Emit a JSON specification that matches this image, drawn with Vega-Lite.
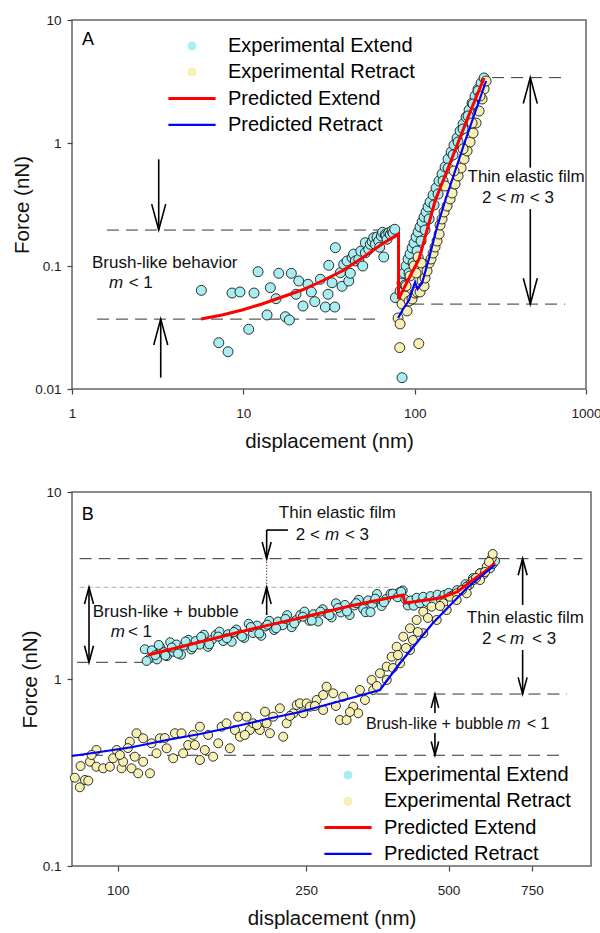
{
"$schema":"https://vega.github.io/schema/vega-lite/v6.json",
"background":"white",
"padding":{"left":11,"top":12,"right":5,"bottom":5},
"spacing":31,
"config":{
 "font":"Liberation Sans",
 "view":{"stroke":"#666666","strokeWidth":1.5},
 "axis":{"grid":false,"domain":false,"tickColor":"#444444","tickSize":5,"tickWidth":1.2,"labelFont":"Liberation Sans","labelFontSize":13.5,"labelColor":"#222222","titleFont":"Liberation Sans","titleFontSize":20.5,"titleFontWeight":"normal","titleColor":"#111111","labelFlush":false,"labelOverlap":false},
 "legend":{"labelFont":"Liberation Sans","labelFontSize":20,"labelColor":"#000000","labelLimit":400,"padding":0,"rowPadding":6.3,"symbolSize":64,"labelOffset":26,"symbolOffset":0,"symbolStrokeWidth":1}
},
"resolve":{"scale":{"color":"independent"},"legend":{"color":"independent"}},
"datasets":{
"extA":[{"x":5.69,"y":0.0634},{"x":7.19,"y":0.0238},{"x":8.14,"y":0.0201},{"x":8.59,"y":0.0603},{"x":9.56,"y":0.0615},{"x":10.75,"y":0.0306},{"x":11.55,"y":0.0603},{"x":12.19,"y":0.0899},{"x":13.75,"y":0.04},{"x":14.38,"y":0.0666},{"x":15.52,"y":0.0542},{"x":16.1,"y":0.0872},{"x":17.59,"y":0.0387},{"x":18.56,"y":0.0364},{"x":19.06,"y":0.0872},{"x":20.3,"y":0.0589},{"x":21.06,"y":0.0755},{"x":22.31,"y":0.0473},{"x":23.86,"y":0.071},{"x":24.94,"y":0.0615},{"x":26.12,"y":0.0513},{"x":28.15,"y":0.078},{"x":30.11,"y":0.0464},{"x":31.22,"y":0.0589},{"x":31.51,"y":0.1013},{"x":34.17,"y":0.0464},{"x":34.44,"y":0.1409},{"x":32.95,"y":0.0731},{"x":36.84,"y":0.0882},{"x":37.69,"y":0.0684},{"x":38.56,"y":0.1032},{"x":40.31,"y":0.1098},{"x":41.24,"y":0.0755},{"x":42.13,"y":0.0872},{"x":43.11,"y":0.1168},{"x":44.0,"y":0.125},{"x":45.06,"y":0.1098},{"x":47.18,"y":0.1134},{"x":48.5,"y":0.132},{"x":49.77,"y":0.1},{"x":51.54,"y":0.1282},{"x":51.54,"y":0.1547},{"x":53.95,"y":0.1367},{"x":55.13,"y":0.1501},{"x":56.5,"y":0.158},{"x":57.7,"y":0.1699},{"x":58.96,"y":0.1501},{"x":60.3,"y":0.172},{"x":61.71,"y":0.1597},{"x":62.5,"y":0.142},{"x":63.91,"y":0.1753},{"x":65.0,"y":0.188},{"x":66.01,"y":0.1183},{"x":67.45,"y":0.181},{"x":68.0,"y":0.176},{"x":69.01,"y":0.1649},{"x":70.6,"y":0.1865},{"x":72.13,"y":0.181},{"x":73.81,"y":0.1926},{"x":74.8,"y":0.185},{"x":76.53,"y":0.1988},{"x":77.15,"y":0.0553},{"x":84.41,"y":0.01236},
{"x":82.2,"y":0.0626},{"x":84.4,"y":0.0727},{"x":86.7,"y":0.0877},{"x":89.1,"y":0.1},{"x":91.5,"y":0.114},{"x":94.0,"y":0.1252},{"x":96.6,"y":0.14},{"x":99.2,"y":0.1538},{"x":101.9,"y":0.1721},{"x":104.7,"y":0.189},{"x":107.5,"y":0.2075},{"x":110.5,"y":0.2279},{"x":113.5,"y":0.2503},{"x":116.6,"y":0.2748},{"x":119.7,"y":0.3018},{"x":123.0,"y":0.3314},{"x":128.1,"y":0.3777},{"x":133.3,"y":0.4306},{"x":138.8,"y":0.491},{"x":144.5,"y":0.5598},{"x":150.5,"y":0.6381},{"x":156.7,"y":0.741},{"x":163.2,"y":0.8449},{"x":169.8,"y":0.9632},{"x":176.8,"y":1.098},{"x":184.1,"y":1.252},{"x":191.7,"y":1.427},{"x":199.6,"y":1.627},{"x":207.8,"y":1.855},{"x":216.3,"y":2.114},{"x":225.2,"y":2.41},{"x":234.5,"y":2.748},{"x":244.2,"y":3.075},{"x":254.2,"y":3.378},{"x":87.9,"y":0.0701},{"x":92.8,"y":0.0877},{"x":97.9,"y":0.1058},{"x":103.3,"y":0.1324},{"x":109.0,"y":0.1597},{"x":115.0,"y":0.1962},{"x":121.4,"y":0.2411},{"x":129.8,"y":0.3133},{"x":137.0,"y":0.3848},{"x":146.5,"y":0.491},{"x":156.7,"y":0.6261},{"x":167.6,"y":0.7991},{"x":179.2,"y":1.019},{"x":191.7,"y":1.3},{"x":205.0,"y":1.658},{"x":219.2,"y":2.075},{"x":234.5,"y":2.648}],
"retA":[{"x":80.0,"y":0.0378},{"x":82.2,"y":0.0338},{"x":81.8,"y":0.0217},{"x":105.7,"y":0.0234},{"x":84.4,"y":0.0491},{"x":87.9,"y":0.0571},{"x":90.3,"y":0.0431},{"x":92.8,"y":0.0519},{"x":96.6,"y":0.0539},{"x":100.5,"y":0.0603},{"x":103.3,"y":0.0615},{"x":107.5,"y":0.0615},{"x":110.5,"y":0.0755},{"x":113.5,"y":0.0688},{"x":115.0,"y":0.0799},{"x":118.1,"y":0.0911},{"x":121.4,"y":0.1058},{"x":124.6,"y":0.114},{"x":128.1,"y":0.1275},{"x":131.5,"y":0.1427},{"x":135.1,"y":0.1597},{"x":138.8,"y":0.182},{"x":140.7,"y":0.2154},{"x":144.5,"y":0.2411},{"x":148.5,"y":0.2748},{"x":154.6,"y":0.3075},{"x":161.0,"y":0.3505},{"x":165.3,"y":0.3923},{"x":172.1,"y":0.4642},{"x":179.2,"y":0.5391},{"x":186.6,"y":0.6261},{"x":194.3,"y":0.741},{"x":202.3,"y":0.8609},{"x":210.6,"y":1.019},{"x":219.2,"y":1.206},{"x":228.3,"y":1.454},{"x":237.7,"y":1.82},{"x":247.5,"y":2.279},{"x":254.2,"y":2.748},{"x":261.1,"y":3.192},{"x":89.1,"y":0.0688},{"x":94.0,"y":0.0829},{"x":99.2,"y":0.1},{"x":104.7,"y":0.1183},{"x":109.0,"y":0.1058},{"x":101.9,"y":0.0877},{"x":150.5,"y":0.447},{"x":169.8,"y":0.592},{"x":191.7,"y":0.894},{"x":216.3,"y":1.454},{"x":240.9,"y":2.41}],
"redA":[{"i":1,"x":5.66,"y":0.0371},{"i":2,"x":7.51,"y":0.04},{"i":3,"x":9.83,"y":0.0439},{"i":4,"x":12.86,"y":0.0491},{"i":5,"x":16.83,"y":0.056},{"i":6,"x":22.01,"y":0.0638},{"i":7,"x":28.81,"y":0.0755},{"i":8,"x":37.69,"y":0.0911},{"i":9,"x":49.31,"y":0.1161},{"i":10,"x":64.52,"y":0.151},{"i":11,"x":80.5,"y":0.182},{"i":12,"x":80.5,"y":0.0539},{"i":13,"x":90.3,"y":0.0741},{"i":14,"x":106.1,"y":0.114},{"i":15,"x":131.5,"y":0.3377},{"i":16,"x":165.3,"y":0.7551},{"i":17,"x":205.0,"y":1.627},{"i":18,"x":254.2,"y":3.378}],
"blueA":[{"x":80.0,"y":0.0378},{"x":85.6,"y":0.0447},{"x":92.8,"y":0.0529},{"x":100.5,"y":0.0741},{"x":104.0,"y":0.065},{"x":110.5,"y":0.0727},{"x":121.4,"y":0.1161},{"x":135.1,"y":0.2075},{"x":150.5,"y":0.3377},{"x":197.0,"y":1.038},{"x":261.1,"y":3.192}],
"extB":[{"x":114,"y":1.443},{"x":117,"y":1.292},{"x":119,"y":1.398},{"x":121,"y":1.273},{"x":123,"y":1.476},{"x":125,"y":1.391},{"x":127,"y":1.325},{"x":129,"y":1.572},{"x":131,"y":1.398},{"x":133,"y":1.529},{"x":136,"y":1.349},{"x":138,"y":1.509},{"x":141,"y":1.62},{"x":143,"y":1.439},{"x":146,"y":1.597},{"x":149,"y":1.526},{"x":152,"y":1.725},{"x":155,"y":1.485},{"x":158,"y":1.618},{"x":161,"y":1.72},{"x":164,"y":1.792},{"x":167,"y":1.596},{"x":171,"y":1.735},{"x":174,"y":1.58},{"x":178,"y":1.839},{"x":181,"y":1.733},{"x":185,"y":1.658},{"x":189,"y":1.973},{"x":193,"y":1.76},{"x":197,"y":1.931},{"x":201,"y":1.702},{"x":205,"y":1.91},{"x":209,"y":2.046},{"x":214,"y":1.829},{"x":218,"y":2.028},{"x":223,"y":1.94},{"x":228,"y":2.195},{"x":233,"y":1.893},{"x":238,"y":2.064},{"x":243,"y":2.198},{"x":248,"y":2.293},{"x":254,"y":2.048},{"x":259,"y":2.221},{"x":265,"y":2.029},{"x":271,"y":2.362},{"x":277,"y":2.233},{"x":283,"y":2.135},{"x":289,"y":2.54},{"x":296,"y":2.27},{"x":302,"y":2.49},{"x":309,"y":2.198},{"x":316,"y":2.471},{"x":323,"y":2.652},{"x":330,"y":2.367},{"x":338,"y":2.632},{"x":345,"y":2.516},{"x":353,"y":2.848},{"x":361,"y":2.456},{"x":369,"y":2.679},{"x":377,"y":2.854},{"x":386,"y":2.817},{"x":394,"y":2.917},{"x":400,"y":2.977},{"x":115,"y":1.249},{"x":118,"y":1.424},{"x":120,"y":1.342},{"x":122,"y":1.521},{"x":126,"y":1.335},{"x":130,"y":1.474},{"x":134,"y":1.368},{"x":139,"y":1.587},{"x":144,"y":1.478},{"x":150,"y":1.68},{"x":156,"y":1.533},{"x":163,"y":1.686},{"x":170,"y":1.651},{"x":176,"y":1.785},{"x":183,"y":1.686},{"x":191,"y":1.896},{"x":199,"y":1.751},{"x":207,"y":1.952},{"x":216,"y":1.869},{"x":226,"y":2.096},{"x":236,"y":1.984},{"x":246,"y":2.154},{"x":257,"y":2.053},{"x":268,"y":2.293},{"x":280,"y":2.196},{"x":292,"y":2.398},{"x":305,"y":2.295},{"x":319,"y":2.543},{"x":334,"y":2.276},{"x":342,"y":2.28},{"x":350,"y":2.688},{"x":365,"y":2.571},{"x":381,"y":2.861},{"x":390,"y":2.737},{"x":397,"y":2.93},{"x":405,"y":2.669},{"x":410,"y":2.472},{"x":416,"y":2.63},{"x":422,"y":2.466},{"x":428,"y":2.721},{"x":435,"y":2.542},{"x":442,"y":2.752},{"x":450,"y":2.584},{"x":458,"y":2.775},{"x":466,"y":2.62},{"x":474,"y":2.826},{"x":482,"y":2.658},{"x":490,"y":2.818},{"x":500,"y":2.884},{"x":510,"y":2.799},{"x":521,"y":2.987},{"x":532,"y":2.979},{"x":543,"y":3.214},{"x":553,"y":3.184},{"x":563,"y":3.463},{"x":573,"y":3.412},{"x":583,"y":3.681},{"x":593,"y":3.631},{"x":603,"y":3.898},{"x":612,"y":3.908},{"x":620,"y":4.121},{"x":627,"y":4.268}],
"retB":[{"x":81.1,"y":0.2966},{"x":83.1,"y":0.2636},{"x":85.2,"y":0.2884},{"x":86.6,"y":0.2859},{"x":83.4,"y":0.3425},{"x":87.3,"y":0.3611},{"x":90.1,"y":0.4172},{"x":88.0,"y":0.3924},{"x":90.1,"y":0.3396},{"x":93.1,"y":0.333},{"x":96.2,"y":0.3396},{"x":97.7,"y":0.3767},{"x":99.4,"y":0.4172},{"x":101.8,"y":0.333},{"x":102.6,"y":0.3611},{"x":106.0,"y":0.4622},{"x":106.9,"y":0.333},{"x":108.6,"y":0.3842},{"x":109.5,"y":0.5127},{"x":110.4,"y":0.3131},{"x":113.1,"y":0.3611},{"x":113.1,"y":0.4819},{"x":116.9,"y":0.3131},{"x":117.8,"y":0.4531},{"x":120.7,"y":0.4007},{"x":122.7,"y":0.4819},{"x":126.8,"y":0.4261},{"x":130.9,"y":0.3767},{"x":132.0,"y":0.5127},{"x":136.3,"y":0.5127},{"x":137.4,"y":0.4007},{"x":140.8,"y":0.4437},{"x":144.3,"y":0.5021},{"x":149.1,"y":0.5558},{"x":149.1,"y":0.3688},{"x":152.7,"y":0.4172},{"x":155.2,"y":0.5021},{"x":159.0,"y":0.3842},{"x":163.0,"y":0.4531},{"x":165.7,"y":0.5558},{"x":169.7,"y":0.5796},{"x":172.5,"y":0.4261},{"x":176.8,"y":0.5336},{"x":179.6,"y":0.6288},{"x":181.1,"y":0.4914},{"x":187.1,"y":0.6288},{"x":190.1,"y":0.5336},{"x":193.2,"y":0.5796},{"x":199.6,"y":0.5336},{"x":204.6,"y":0.6686},{"x":206.3,"y":0.5796},{"x":209.6,"y":0.5127},{"x":213.0,"y":0.6288},{"x":220.0,"y":0.6971},{"x":223.6,"y":0.4914},{"x":227.4,"y":0.5796},{"x":234.8,"y":0.6556},{"x":238.7,"y":0.7261},{"x":242.6,"y":0.7414},{"x":246.5,"y":0.6556},{"x":250.6,"y":0.7414},{"x":254.6,"y":0.711},{"x":263.1,"y":0.7721},{"x":271.6,"y":0.8211},{"x":271.6,"y":0.6827},{"x":276.2,"y":0.9096},{"x":285.2,"y":0.8386},{"x":294.7,"y":0.6035},{"x":299.5,"y":0.8044},{"x":304.4,"y":0.6035},{"x":314.4,"y":0.711},{"x":322.1,"y":0.6556},{"x":324.8,"y":0.8733},{"x":343.9,"y":0.9878},{"x":346.6,"y":0.8733},{"x":358.0,"y":1.073},{"x":370.0,"y":1.164},{"x":370.0,"y":0.9878},{"x":379.0,"y":1.316},{"x":388.4,"y":1.488},{"x":394.8,"y":1.213},{"x":401.1,"y":1.684},{"x":414.4,"y":1.867},{"x":414.4,"y":1.429},{"x":428.1,"y":2.068},{"x":442.1,"y":2.291},{"x":442.1,"y":1.756},{"x":460.5,"y":2.436},{"x":471.9,"y":2.068},{"x":487.2,"y":2.54},{"x":495.4,"y":2.339},{"x":503.4,"y":2.754},{"x":520.1,"y":2.872},{"x":520.1,"y":2.645},{"x":546.1,"y":3.116},{"x":546.1,"y":2.872},{"x":564.0,"y":3.383},{"x":582.6,"y":3.675},{"x":582.6,"y":3.383},{"x":601.9,"y":3.986},{"x":616.8,"y":4.422},{"x":619.8,"y":4.661},{"x":608.7,"y":4.224},{"x":289.0,"y":0.7172},{"x":309.4,"y":0.6662},{"x":332.9,"y":0.7721},{"x":352.8,"y":0.9174},{"x":381.5,"y":1.145},{"x":406.4,"y":1.465},{"x":430.7,"y":1.784},{"x":452.3,"y":2.12},{"x":479.5,"y":2.457},{"x":533.7,"y":2.992},{"x":571.4,"y":3.468},{"x":597.0,"y":3.734},{"x":420.5,"y":1.617},{"x":390.8,"y":1.344},{"x":185.5,"y":0.5021},{"x":196.7,"y":0.5675},{"x":231.0,"y":0.6342},{"x":260.9,"y":0.7172},{"x":101.0,"y":0.3924},{"x":105.0,"y":0.4272},{"x":125.7,"y":0.4836},{"x":145.5,"y":0.4437}],
"redB":[{"x":115.7,"y":1.344},{"x":149.1,"y":1.577},{"x":190.1,"y":1.839},{"x":242.6,"y":2.12},{"x":309.4,"y":2.457},{"x":400.4,"y":2.814},{"x":404.4,"y":2.55},{"x":435.0,"y":2.614},{"x":479.5,"y":2.712},{"x":520.8,"y":2.919},{"x":563.0,"y":3.383},{"x":602.8,"y":3.827},{"x":626.6,"y":4.172}],
"blueB":[{"x":79.9,"y":0.3875},{"x":91.6,"y":0.4071},{"x":107.6,"y":0.4329},{"x":126.9,"y":0.4718},{"x":149.1,"y":0.5082},{"x":175.0,"y":0.5538},{"x":206.5,"y":0.611},{"x":242.6,"y":0.6662},{"x":284.8,"y":0.744},{"x":358.0,"y":0.8733},{"x":394.8,"y":1.218},{"x":463.4,"y":1.993},{"x":546.8,"y":3.066},{"x":626.6,"y":4.071}]
},
"vconcat":[
{
 "width":514,"height":369,
 "encoding":{
  "x":{"field":"x","type":"quantitative","scale":{"type":"log","domain":[1,1000],"nice":false},"axis":{"title":"displacement (nm)","values":[1,10,100,1000],"format":"d","labelPadding":12,"titlePadding":12}},
  "y":{"field":"y","type":"quantitative","scale":{"type":"log","domain":[0.01,10],"nice":false},"axis":{"title":"Force (nN)","values":[0.01,0.1,1,10],"format":"~g","labelPadding":6,"titlePadding":2}}
 },
 "layer":[
  {"data":{"values":[{"y":0.196,"x":1.6,"x2":69},{"y":0.037,"x":1.4,"x2":64.5},{"y":3.4,"x":283,"x2":740},{"y":0.049,"x":96.6,"x2":755}]},
   "mark":{"type":"rule","strokeDash":[12,7],"color":"#333333","strokeWidth":1},
   "encoding":{"x2":{"field":"x2"}}},
  {"data":{"values":[{"x":3.207,"y":0.737,"y2":0.196},{"x":3.295,"y":0.01236,"y2":0.037},{"x":473,"y":0.63,"y2":3.4},{"x":473,"y":0.29,"y2":0.049}]},
   "mark":{"type":"rule","color":"#000000","strokeWidth":1.6},
   "encoding":{"y2":{"field":"y2"}}},
  {"data":{"values":[{"x":3.207,"y":0.196,"d":"down"},{"x":3.295,"y":0.037,"d":"up"},{"x":473,"y":3.4,"d":"up"},{"x":473,"y":0.049,"d":"down"}]},
   "mark":{"type":"point","filled":false,"size":196,"stroke":"#000000","strokeWidth":1.6,"opacity":1},
   "encoding":{"shape":{"field":"d","type":"nominal","scale":{"domain":["down","up"],"range":["M-1,-3.7L0,0L1,-3.7","M-1,3.7L0,0L1,3.7"]},"legend":null}}},
  {"data":{"values":[{"x":1.144,"y":6.877,"t":"A"}]},
   "mark":{"type":"text","align":"left","baseline":"middle","fontSize":18,"font":"Liberation Sans","color":"#000000"},
   "encoding":{"text":{"field":"t"}}},
  {"data":{"values":[{"x":1.308,"y":0.1058,"t":"Brush-like behavior"},{"x":2.143,"y":0.0727,"t":"< 1"},{"x":247.5,"y":0.3604,"t":"2 <"},{"x":469.8,"y":0.3604,"t":"< 3"}]},
   "mark":{"type":"text","align":"left","baseline":"middle","fontSize":17,"font":"Liberation Sans","color":"#111111"},
   "encoding":{"text":{"field":"t"}}},
  {"data":{"values":[{"x":1.644,"y":0.0727,"t":"m"},{"x":362.0,"y":0.3604,"t":"m"}]},
   "mark":{"type":"text","align":"left","baseline":"middle","fontSize":17,"fontStyle":"italic","font":"Liberation Sans","color":"#111111"},
   "encoding":{"text":{"field":"t"}}},
  {"data":{"values":[{"x":446.9,"y":0.5294,"t":"Thin elastic film"}]},
   "mark":{"type":"text","align":"center","baseline":"middle","fontSize":17,"font":"Liberation Sans","color":"#111111"},
   "encoding":{"text":{"field":"t"}}},
  {"data":{"name":"extA"},
   "mark":{"type":"point","filled":true,"shape":"circle","size":100,"stroke":"#000000","strokeWidth":0.8,"opacity":1},
   "encoding":{"color":{"datum":"Experimental Extend","type":"nominal","scale":{"domain":["Experimental Extend","Experimental Retract","Predicted Extend","Predicted Retract"],"range":["#a8eef0","#f6f0b4","#ff0000","#0000ff"]},
     "legend":{"orient":"none","legendX":110,"legendY":16,"title":null,"encode":{"symbols":{"update":{"shape":{"signal":"indexof(datum.value,'Predicted')===0 ? 'M-5.9,0H5.9' : 'circle'"},"fill":{"signal":"datum.value==='Experimental Extend' ? '#a8eef0' : (datum.value==='Experimental Retract' ? '#f6f0b4' : 'transparent')"},"stroke":{"signal":"datum.value==='Predicted Extend' ? '#ff0000' : (datum.value==='Predicted Retract' ? '#0000ff' : '#000000')"},"strokeWidth":{"signal":"datum.value==='Predicted Extend' ? 3 : (datum.value==='Predicted Retract' ? 2.2 : 1)"},"opacity":{"value":1},"strokeOpacity":{"value":1}}}}}}}},
  {"data":{"name":"retA"},
   "mark":{"type":"point","filled":true,"shape":"circle","size":100,"stroke":"#000000","strokeWidth":0.8,"opacity":1},
   "encoding":{"color":{"datum":"Experimental Retract","type":"nominal",
     "legend":{"orient":"none","legendX":110,"legendY":16,"title":null,"encode":{"symbols":{"update":{"shape":{"signal":"indexof(datum.value,'Predicted')===0 ? 'M-5.9,0H5.9' : 'circle'"},"fill":{"signal":"datum.value==='Experimental Extend' ? '#a8eef0' : (datum.value==='Experimental Retract' ? '#f6f0b4' : 'transparent')"},"stroke":{"signal":"datum.value==='Predicted Extend' ? '#ff0000' : (datum.value==='Predicted Retract' ? '#0000ff' : '#000000')"},"strokeWidth":{"signal":"datum.value==='Predicted Extend' ? 3 : (datum.value==='Predicted Retract' ? 2.2 : 1)"},"opacity":{"value":1},"strokeOpacity":{"value":1}}}}}}}},
  {"data":{"name":"redA"},
   "mark":{"type":"line","strokeWidth":3},
   "encoding":{"order":{"field":"i","type":"quantitative"},
    "color":{"datum":"Predicted Extend","type":"nominal",
     "legend":{"orient":"none","legendX":110,"legendY":16,"title":null,"encode":{"symbols":{"update":{"shape":{"signal":"indexof(datum.value,'Predicted')===0 ? 'M-5.9,0H5.9' : 'circle'"},"fill":{"signal":"datum.value==='Experimental Extend' ? '#a8eef0' : (datum.value==='Experimental Retract' ? '#f6f0b4' : 'transparent')"},"stroke":{"signal":"datum.value==='Predicted Extend' ? '#ff0000' : (datum.value==='Predicted Retract' ? '#0000ff' : '#000000')"},"strokeWidth":{"signal":"datum.value==='Predicted Extend' ? 3 : (datum.value==='Predicted Retract' ? 2.2 : 1)"},"opacity":{"value":1},"strokeOpacity":{"value":1}}}}}}}},
  {"data":{"name":"blueA"},
   "mark":{"type":"line","strokeWidth":2.2},
   "encoding":{"color":{"datum":"Predicted Retract","type":"nominal",
     "legend":{"orient":"none","legendX":110,"legendY":16,"title":null,"encode":{"symbols":{"update":{"shape":{"signal":"indexof(datum.value,'Predicted')===0 ? 'M-5.9,0H5.9' : 'circle'"},"fill":{"signal":"datum.value==='Experimental Extend' ? '#a8eef0' : (datum.value==='Experimental Retract' ? '#f6f0b4' : 'transparent')"},"stroke":{"signal":"datum.value==='Predicted Extend' ? '#ff0000' : (datum.value==='Predicted Retract' ? '#0000ff' : '#000000')"},"strokeWidth":{"signal":"datum.value==='Predicted Extend' ? 3 : (datum.value==='Predicted Retract' ? 2.2 : 1)"},"opacity":{"value":1},"strokeOpacity":{"value":1}}}}}}}}
 ]
},
{
 "width":519,"height":374,
 "encoding":{
  "x":{"field":"x","type":"quantitative","scale":{"type":"log","domain":[80,1000],"nice":false},"axis":{"title":"displacement (nm)","values":[100,250,500,750],"format":"d","labelPadding":12,"titlePadding":12}},
  "y":{"field":"y","type":"quantitative","scale":{"type":"log","domain":[0.1,10],"nice":false},"axis":{"title":"Force (nN)","values":[0.1,1,10],"format":"~g","labelPadding":6,"titlePadding":2}}
 },
 "layer":[
  {"data":{"values":[{"y":4.4,"x":83,"x2":959},{"y":1.228,"x":82,"x2":115},{"y":0.831,"x":352,"x2":890},{"y":0.391,"x":80,"x2":873}]},
   "mark":{"type":"rule","strokeDash":[12,7],"color":"#333333","strokeWidth":1},
   "encoding":{"x2":{"field":"x2"}}},
  {"data":{"values":[{"y":3.093,"x":83,"x2":376}]},
   "mark":{"type":"rule","strokeDash":[5,3],"color":"#999999","strokeWidth":0.8},
   "encoding":{"x2":{"field":"x2"}}},
  {"data":{"values":[{"y":6.26,"x":206.3,"x2":228.8}]},
   "mark":{"type":"rule","color":"#000000","strokeWidth":1.6},
   "encoding":{"x2":{"field":"x2"}}},
  {"data":{"values":[{"x":206.3,"y":4.4,"y2":3.093}]},
   "mark":{"type":"rule","strokeDash":[1,2],"color":"#660000","strokeWidth":1.2},
   "encoding":{"y2":{"field":"y2"}}},
  {"data":{"values":[{"x":206.3,"y":6.26,"y2":4.4},{"x":206.3,"y":2.2,"y2":3.093},{"x":86.9,"y":3.093,"y2":1.228},{"x":717,"y":2.49,"y2":4.4},{"x":717,"y":1.43,"y2":0.831},{"x":467.9,"y":0.658,"y2":0.831},{"x":467.9,"y":0.514,"y2":0.391}]},
   "mark":{"type":"rule","color":"#000000","strokeWidth":1.6},
   "encoding":{"y2":{"field":"y2"}}},
  {"data":{"values":[{"x":206.3,"y":4.4,"d":"down"},{"x":206.3,"y":3.093,"d":"up"},{"x":86.9,"y":3.093,"d":"up"},{"x":86.9,"y":1.228,"d":"down"},{"x":717,"y":4.4,"d":"up"},{"x":717,"y":0.831,"d":"down"}]},
   "mark":{"type":"point","filled":false,"size":81,"stroke":"#000000","strokeWidth":1.6,"opacity":1},
   "encoding":{"shape":{"field":"d","type":"nominal","scale":{"domain":["down","up"],"range":["M-1,-3.7L0,0L1,-3.7","M-1,3.7L0,0L1,3.7"]},"legend":null}}},
  {"data":{"values":[{"x":467.9,"y":0.831,"d":"up"},{"x":467.9,"y":0.391,"d":"down"}]},
   "mark":{"type":"point","filled":false,"size":56,"stroke":"#000000","strokeWidth":1.6,"opacity":1},
   "encoding":{"shape":{"field":"d","type":"nominal","scale":{"domain":["down","up"],"range":["M-1,-3.7L0,0L1,-3.7","M-1,3.7L0,0L1,3.7"]},"legend":null}}},
  {"data":{"values":[{"x":83.9,"y":7.534,"t":"B"}]},
   "mark":{"type":"text","align":"left","baseline":"middle","fontSize":18,"font":"Liberation Sans","color":"#000000"},
   "encoding":{"text":{"field":"t"}}},
  {"data":{"values":[{"x":291.1,"y":7.723,"t":"Thin elastic film"},{"x":726.8,"y":2.12,"t":"Thin elastic film"}]},
   "mark":{"type":"text","align":"center","baseline":"middle","fontSize":17,"font":"Liberation Sans","color":"#111111"},
   "encoding":{"text":{"field":"t"}}},
  {"data":{"values":[{"x":88.5,"y":2.282,"t":"Brush-like + bubble"},{"x":105.0,"y":1.773,"t":"< 1"},{"x":237.8,"y":5.89,"t":"2 <"},{"x":301.9,"y":5.89,"t":"< 3"},{"x":588.4,"y":1.636,"t":"2 <"},{"x":750.5,"y":1.636,"t":"< 3"}]},
   "mark":{"type":"text","align":"left","baseline":"middle","fontSize":17,"font":"Liberation Sans","color":"#111111"},
   "encoding":{"text":{"field":"t"}}},
  {"data":{"values":[{"x":96.6,"y":1.773,"t":"m"},{"x":274.0,"y":5.89,"t":"m"},{"x":674.3,"y":1.636,"t":"m"}]},
   "mark":{"type":"text","align":"left","baseline":"middle","fontSize":17,"fontStyle":"italic","font":"Liberation Sans","color":"#111111"},
   "encoding":{"text":{"field":"t"}}},
  {"data":{"values":[{"x":334.4,"y":0.5745,"t":"Brush-like + bubble"},{"x":731.3,"y":0.5745,"t":"< 1"}]},
   "mark":{"type":"text","align":"left","baseline":"middle","fontSize":16,"font":"Liberation Sans","color":"#111111"},
   "encoding":{"text":{"field":"t"}}},
  {"data":{"values":[{"x":665.3,"y":0.5745,"t":"m"}]},
   "mark":{"type":"text","align":"left","baseline":"middle","fontSize":16,"fontStyle":"italic","font":"Liberation Sans","color":"#111111"},
   "encoding":{"text":{"field":"t"}}},
  {"data":{"name":"extB"},
   "mark":{"type":"point","filled":true,"shape":"circle","size":81,"stroke":"#000000","strokeWidth":0.8,"opacity":1},
   "encoding":{"color":{"datum":"Experimental Extend","type":"nominal","scale":{"domain":["Experimental Extend","Experimental Retract","Predicted Extend","Predicted Retract"],"range":["#a8eef0","#f6f0b4","#ff0000","#0000ff"]},
     "legend":{"orient":"none","legendX":266,"legendY":273,"title":null,"encode":{"symbols":{"update":{"shape":{"signal":"indexof(datum.value,'Predicted')===0 ? 'M-5.9,0H5.9' : 'circle'"},"fill":{"signal":"datum.value==='Experimental Extend' ? '#a8eef0' : (datum.value==='Experimental Retract' ? '#f6f0b4' : 'transparent')"},"stroke":{"signal":"datum.value==='Predicted Extend' ? '#ff0000' : (datum.value==='Predicted Retract' ? '#0000ff' : '#000000')"},"strokeWidth":{"signal":"datum.value==='Predicted Extend' ? 3 : (datum.value==='Predicted Retract' ? 2.2 : 1)"},"opacity":{"value":1},"strokeOpacity":{"value":1}}}}}}}},
  {"data":{"name":"retB"},
   "mark":{"type":"point","filled":true,"shape":"circle","size":81,"stroke":"#000000","strokeWidth":0.8,"opacity":1},
   "encoding":{"color":{"datum":"Experimental Retract","type":"nominal",
     "legend":{"orient":"none","legendX":266,"legendY":273,"title":null,"encode":{"symbols":{"update":{"shape":{"signal":"indexof(datum.value,'Predicted')===0 ? 'M-5.9,0H5.9' : 'circle'"},"fill":{"signal":"datum.value==='Experimental Extend' ? '#a8eef0' : (datum.value==='Experimental Retract' ? '#f6f0b4' : 'transparent')"},"stroke":{"signal":"datum.value==='Predicted Extend' ? '#ff0000' : (datum.value==='Predicted Retract' ? '#0000ff' : '#000000')"},"strokeWidth":{"signal":"datum.value==='Predicted Extend' ? 3 : (datum.value==='Predicted Retract' ? 2.2 : 1)"},"opacity":{"value":1},"strokeOpacity":{"value":1}}}}}}}},
  {"data":{"name":"redB"},
   "mark":{"type":"line","strokeWidth":3},
   "encoding":{"color":{"datum":"Predicted Extend","type":"nominal",
     "legend":{"orient":"none","legendX":266,"legendY":273,"title":null,"encode":{"symbols":{"update":{"shape":{"signal":"indexof(datum.value,'Predicted')===0 ? 'M-5.9,0H5.9' : 'circle'"},"fill":{"signal":"datum.value==='Experimental Extend' ? '#a8eef0' : (datum.value==='Experimental Retract' ? '#f6f0b4' : 'transparent')"},"stroke":{"signal":"datum.value==='Predicted Extend' ? '#ff0000' : (datum.value==='Predicted Retract' ? '#0000ff' : '#000000')"},"strokeWidth":{"signal":"datum.value==='Predicted Extend' ? 3 : (datum.value==='Predicted Retract' ? 2.2 : 1)"},"opacity":{"value":1},"strokeOpacity":{"value":1}}}}}}}},
  {"data":{"name":"blueB"},
   "mark":{"type":"line","strokeWidth":2.2},
   "encoding":{"color":{"datum":"Predicted Retract","type":"nominal",
     "legend":{"orient":"none","legendX":266,"legendY":273,"title":null,"encode":{"symbols":{"update":{"shape":{"signal":"indexof(datum.value,'Predicted')===0 ? 'M-5.9,0H5.9' : 'circle'"},"fill":{"signal":"datum.value==='Experimental Extend' ? '#a8eef0' : (datum.value==='Experimental Retract' ? '#f6f0b4' : 'transparent')"},"stroke":{"signal":"datum.value==='Predicted Extend' ? '#ff0000' : (datum.value==='Predicted Retract' ? '#0000ff' : '#000000')"},"strokeWidth":{"signal":"datum.value==='Predicted Extend' ? 3 : (datum.value==='Predicted Retract' ? 2.2 : 1)"},"opacity":{"value":1},"strokeOpacity":{"value":1}}}}}}}}
 ]
}
]
}
